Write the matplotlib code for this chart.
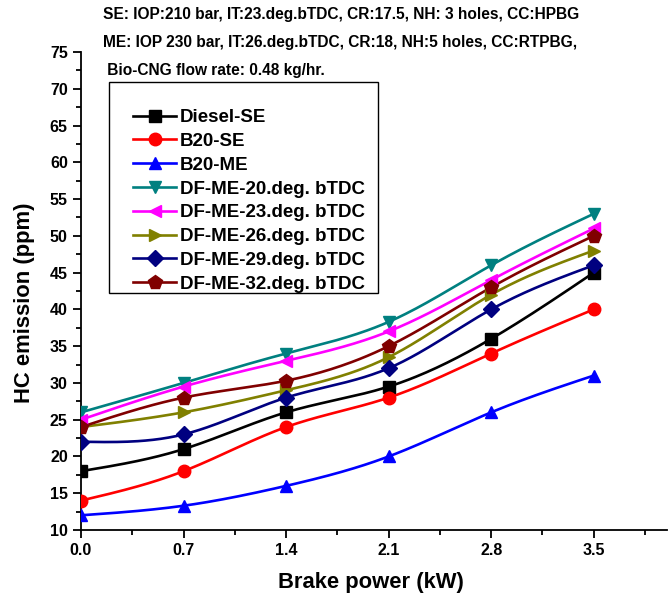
import numpy as np
import matplotlib
matplotlib.use("Agg")
import matplotlib.pyplot as plt
from matplotlib.ticker import MultipleLocator
from matplotlib.patches import Rectangle

plt.rcParams['font.family'] = ['Liberation Sans', 'DejaVu Sans']
plt.rcParams['font.weight'] = 'bold'

brake_power = [0.0, 0.7, 1.4, 2.1, 2.8, 3.5]
diesel_se = [18, 21, 26, 29.5, 36, 45]
b20_se = [14, 18, 24, 28, 34, 40]
b20_me = [12, 13.3, 16, 20, 26, 31]
df_20 = [26, 30, 34, 38.3, 46, 53]
df_23 = [25, 29.5, 33, 37, 44, 51]
df_26 = [24, 26, 29, 33.5, 42, 48]
df_29 = [22, 23, 28, 32, 40, 46]
df_32 = [24, 28, 30.3, 35, 43, 50]

labels = ['Diesel-SE', 'B20-SE', 'B20-ME', 'DF-ME-20.deg. bTDC', 'DF-ME-23.deg. bTDC',
          'DF-ME-26.deg. bTDC', 'DF-ME-29.deg. bTDC', 'DF-ME-32.deg. bTDC']
series = [diesel_se, b20_se, b20_me, df_20, df_23, df_26, df_29, df_32]
colors = ['#000000', '#FF0000', '#0000FF', '#008080', '#FF00FF', '#808000', '#000080', '#800000']
markers = ['s', 'o', '^', 'v', '<', '>', 'D', 'p']
msizes = [8, 9, 9, 9, 9, 9, 8, 10]

header = ["SE: IOP:210 bar, IT:23.deg.bTDC, CR:17.5, NH: 3 holes, CC:HPBG",
          "ME: IOP 230 bar, IT:26.deg.bTDC, CR:18, NH:5 holes, CC:RTPBG,",
          " Bio-CNG flow rate: 0.48 kg/hr."]


def natural_spline(x, y, n=200):
    x = np.asarray(x, float); y = np.asarray(y, float)
    k = len(x); h = np.diff(x)
    A = np.zeros((k, k)); b = np.zeros(k)
    A[0, 0] = A[-1, -1] = 1
    for i in range(1, k - 1):
        A[i, i - 1] = h[i - 1]; A[i, i] = 2 * (h[i - 1] + h[i]); A[i, i + 1] = h[i]
        b[i] = 3 * ((y[i + 1] - y[i]) / h[i] - (y[i] - y[i - 1]) / h[i - 1])
    c = np.linalg.solve(A, b)
    xs = np.linspace(x[0], x[-1], n); ys = np.empty_like(xs)
    for j, xv in enumerate(xs):
        i = min(np.searchsorted(x, xv, side='right') - 1, k - 2)
        dx = xv - x[i]
        bb = (y[i + 1] - y[i]) / h[i] - h[i] * (2 * c[i] + c[i + 1]) / 3
        d = (c[i + 1] - c[i]) / (3 * h[i])
        ys[j] = y[i] + bb * dx + c[i] * dx ** 2 + d * dx ** 3
    return xs, ys


W, H = 672, 596
fig = plt.figure(figsize=(W / 100, H / 100), dpi=100)
ax = fig.add_axes([81 / W, 1 - 530 / H, 586 / W, 478 / H])

for ys, lab, col, mk, ms in zip(series, labels, colors, markers, msizes):
    sx, sy = natural_spline(brake_power, ys)
    ax.plot(sx, sy, color=col, lw=1.9, zorder=2)
    ax.plot(brake_power, ys, linestyle='none', marker=mk, color=col, ms=ms, zorder=3)
    ax.plot([], [], color=col, lw=1.9, marker=mk, ms=ms, label=lab)

ax.set_xlim(0, 4.0)
ax.set_ylim(10, 75)
ax.xaxis.set_minor_locator(MultipleLocator(0.35))
ax.yaxis.set_major_locator(MultipleLocator(5))
ax.yaxis.set_minor_locator(MultipleLocator(2.5))
ax.set_xticks(brake_power)
ax.set_xticklabels([f"{v:.1f}" for v in brake_power])
ax.spines['top'].set_visible(False)
ax.spines['right'].set_visible(False)
ax.spines['left'].set_linewidth(1.3)
ax.spines['bottom'].set_linewidth(1.3)
ax.tick_params(which='major', direction='out', length=6, width=1.3, labelsize=11.5)
ax.tick_params(which='minor', direction='out', length=3.5, width=1.3)
for t in ax.get_xticklabels() + ax.get_yticklabels():
    t.set_fontweight('bold')

ax.set_xlabel('Brake power (kW)', fontsize=15.8, fontweight='bold')
ax.set_ylabel('HC emission (ppm)', fontsize=15.8, fontweight='bold')
ax.xaxis.set_label_coords(0.494, -0.088)
ax.yaxis.set_label_coords(-0.0785, 0.475)

# legend frame
fig.add_artist(Rectangle((109 / W, 1 - 293 / H), (378 - 109) / W, (293 - 82) / H,
                         transform=fig.transFigure, fill=False, edgecolor='black', lw=1.0, zorder=5))
fs_leg = 13.5
row_px = fs_leg * 100 / 72
leg = ax.legend(loc='upper left', bbox_to_anchor=(133 / W, 1 - (118.5 - row_px * 0.5) / H),
                bbox_transform=fig.transFigure, frameon=False, fontsize=fs_leg,
                handlelength=2.3, handletextpad=0.2, labelspacing=0.355,
                borderpad=0, borderaxespad=0)
for t in leg.get_texts():
    t.set_fontweight('bold')

ys_txt = [14, 43, 71]
for s, yy in zip(header, ys_txt):
    fig.text(103 / W, 1 - yy / H, s, fontsize=11.2, fontweight='bold', va='center', ha='left')

fig.savefig('out.png', dpi=100)
